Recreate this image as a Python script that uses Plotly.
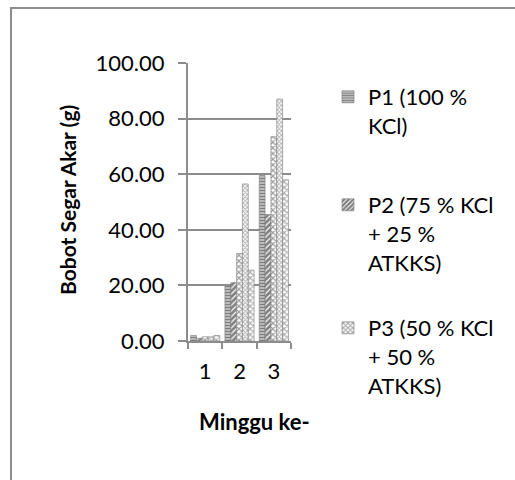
import plotly.graph_objects as go

weeks = ["1", "2", "3"]
p1 = [2.0, 20.0, 59.5]
p2 = [1.0, 21.0, 45.5]
p3 = [1.5, 31.5, 73.5]
p4 = [1.5, 56.5, 87.0]
p5 = [2.0, 25.5, 58.0]
names = ["P1 (100 %<br>KCl)", "P2 (75 % KCl<br>+ 25 %<br>ATKKS)", "P3 (50 % KCl<br>+ 50 %<br>ATKKS)", "P4", "P5"]
y_ticks = [0, 20, 40, 60, 80, 100]

FONT = "Lato, 'Open Sans', sans-serif"
L, R, T, B = 188, 224, 63, 139
W, H = 515, 480
pw = W - L - R
ph = H - T - B

def px(x):
    return (x - L) / pw

def py(y):
    return (H - B - y) / ph

styles = [
    dict(shape="-", fgcolor="#000000", bgcolor="#ffffff", size=3, solidity=0.7),
    dict(shape="/", fgcolor="#000000", bgcolor="#ffffff", size=4, solidity=0.7),
    dict(shape="x", fgcolor="#404040", bgcolor="#ffffff", size=4, solidity=0.5),
    dict(shape="x", fgcolor="#606060", bgcolor="#ffffff", size=3, solidity=0.5),
    dict(shape="x", fgcolor="#606060", bgcolor="#ffffff", size=4, solidity=0.5),
]
legends = ["legend", "legend2", "legend3", None, None]
series = [p1, p2, p3, p4, p5]

fig = go.Figure()
for i, vals in enumerate(series):
    kw = {}
    if legends[i]:
        kw["legend"] = legends[i]
    fig.add_trace(go.Bar(
        x=weeks, y=vals, name=names[i],
        marker=dict(color="#ffffff", pattern=styles[i], line=dict(color="#7a7a7a", width=0.6)),
        showlegend=legends[i] is not None,
        **kw
    ))

leg_common = dict(font=dict(family=FONT, size=22, color="#000000"), bgcolor="rgba(0,0,0,0)",
                  xanchor="left", yanchor="top", valign="top", itemwidth=30)
fig.update_layout(
    width=W, height=H,
    margin=dict(l=L, r=R, t=T, b=B, pad=0),
    paper_bgcolor="#ffffff", plot_bgcolor="#ffffff",
    barmode="group", bargap=0.15, bargroupgap=0.0,
    font=dict(family=FONT, size=22, color="#000000"),
    legend=dict(x=px(328), y=py(76), **leg_common),
    legend2=dict(x=px(328), y=py(184), **leg_common),
    legend3=dict(x=px(328), y=py(307), **leg_common),
    xaxis=dict(type="category", showline=True, linecolor="#8c8c8c", linewidth=2,
               ticks="outside", tickson="boundaries", ticklen=6, tickcolor="#8c8c8c",
               tickwidth=1.5, tickfont=dict(size=22), showgrid=False, ticklabelstandoff=10),
    yaxis=dict(range=[0, 100], tickvals=y_ticks, ticktext=[f"{v:.2f}" for v in y_ticks],
               showline=True, linecolor="#8c8c8c", linewidth=2, ticks="outside",
               ticklen=8, tickcolor="#8c8c8c", tickwidth=1.5, showgrid=True,
               gridcolor="#8c8c8c", gridwidth=2, zeroline=False, tickfont=dict(size=22),
               ticklabelstandoff=9),
    annotations=[
        dict(text="<b>Bobot Segar Akar (g)</b>", xref="paper", yref="paper",
             x=px(67), y=py(200), xanchor="center", yanchor="middle", textangle=-90,
             showarrow=False, font=dict(family=FONT, size=21, color="#000000")),
        dict(text="<b>Minggu ke-</b>", xref="paper", yref="paper",
             x=px(254), y=py(421), xanchor="center", yanchor="middle", showarrow=False,
             font=dict(family=FONT, size=22, color="#000000")),
    ],
    shapes=[dict(type="rect", xref="paper", yref="paper",
                 x0=px(11), x1=px(530), y0=py(495), y1=py(8),
                 line=dict(color="#8c8c8c", width=2))],
)
fig.write_html("out.html")
